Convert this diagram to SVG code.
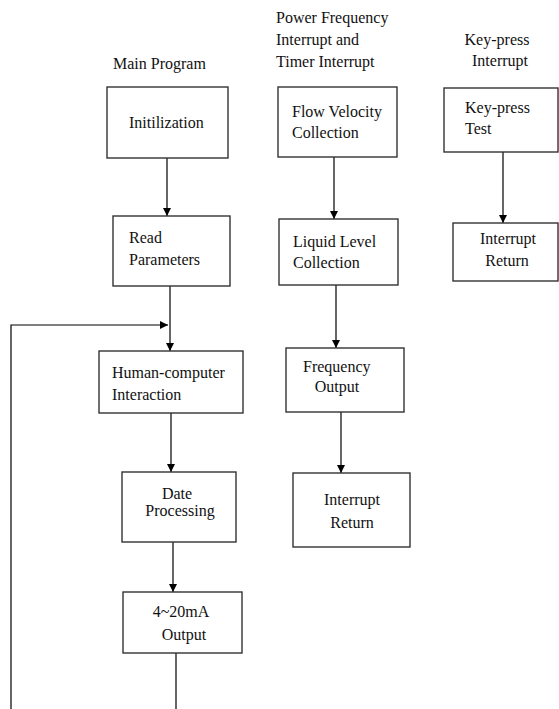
<svg xmlns="http://www.w3.org/2000/svg" width="559" height="709" viewBox="0 0 559 709">
<defs>
<marker id="ah" viewBox="0 0 8 8" refX="8" refY="4" markerWidth="8" markerHeight="8" markerUnits="userSpaceOnUse" orient="auto">
<path d="M0,0 L8,4 L0,8 Z" fill="#000"/>
</marker>
<style>
.box{fill:#fff;stroke:#333;stroke-width:1.4}
text{font-family:'Liberation Serif','Times New Roman',serif;font-size:16px;fill:#111}
.c{text-anchor:middle}
.ln{fill:none;stroke:#000;stroke-width:1.2}
</style>
</defs>
<rect width="559" height="709" fill="#fff"/>
<g id="titles">
<text x="113" y="69">Main Program</text>
<text x="276" y="23">Power Frequency</text>
<text x="276" y="45">Interrupt and</text>
<text x="276" y="67">Timer Interrupt</text>
<text class="c" x="497" y="45">Key-press</text>
<text class="c" x="500" y="66">Interrupt</text>
</g>
<g id="connectors">
<line class="ln" x1="167" y1="158" x2="167" y2="216" marker-end="url(#ah)"/>
<line class="ln" x1="170" y1="286" x2="170" y2="351" marker-end="url(#ah)"/>
<polyline class="ln" points="11,709 11,325 168,325" marker-end="url(#ah)"/>
<line class="ln" x1="171" y1="413" x2="171" y2="472" marker-end="url(#ah)"/>
<line class="ln" x1="173" y1="542" x2="173" y2="592" marker-end="url(#ah)"/>
<line class="ln" x1="176" y1="653" x2="176" y2="709"/>
<line class="ln" x1="334" y1="157" x2="334" y2="219" marker-end="url(#ah)"/>
<line class="ln" x1="336" y1="285" x2="336" y2="348" marker-end="url(#ah)"/>
<line class="ln" x1="341" y1="412" x2="341" y2="473" marker-end="url(#ah)"/>
<line class="ln" x1="503" y1="152" x2="503" y2="223" marker-end="url(#ah)"/>
</g>
<g id="init">
<rect class="box" x="107" y="87" width="121" height="71"/>
<text x="129" y="128">Initilization</text>
</g>
<g id="read">
<rect class="box" x="113" y="216" width="117" height="70"/>
<text x="129" y="243">Read</text>
<text x="129" y="265">Parameters</text>
</g>
<g id="hci">
<rect class="box" x="99" y="351" width="144" height="62"/>
<text x="112" y="378">Human-computer</text>
<text x="112" y="400">Interaction</text>
</g>
<g id="date">
<rect class="box" x="122" y="472" width="114" height="70"/>
<text class="c" x="177" y="499">Date</text>
<text class="c" x="180" y="516">Processing</text>
</g>
<g id="output420">
<rect class="box" x="123" y="592" width="119" height="61"/>
<text class="c" x="181" y="617">4~20mA</text>
<text class="c" x="184" y="640">Output</text>
</g>
<g id="flow">
<rect class="box" x="278" y="87" width="119" height="70"/>
<text x="292" y="117">Flow Velocity</text>
<text x="292" y="138">Collection</text>
</g>
<g id="liquid">
<rect class="box" x="279" y="219" width="119" height="66"/>
<text x="293" y="247">Liquid Level</text>
<text x="293" y="268">Collection</text>
</g>
<g id="freq">
<rect class="box" x="286" y="348" width="118" height="64"/>
<text x="303" y="372">Frequency</text>
<text class="c" x="337" y="392">Output</text>
</g>
<g id="ret1">
<rect class="box" x="293" y="473" width="117" height="74"/>
<text class="c" x="352" y="505">Interrupt</text>
<text class="c" x="352" y="528">Return</text>
</g>
<g id="keytest">
<rect class="box" x="444" y="88" width="114" height="64"/>
<text x="465" y="113">Key-press</text>
<text x="465" y="134">Test</text>
</g>
<g id="ret2">
<rect class="box" x="453" y="223" width="105" height="58"/>
<text class="c" x="508" y="244">Interrupt</text>
<text class="c" x="507" y="266">Return</text>
</g>
</svg>
